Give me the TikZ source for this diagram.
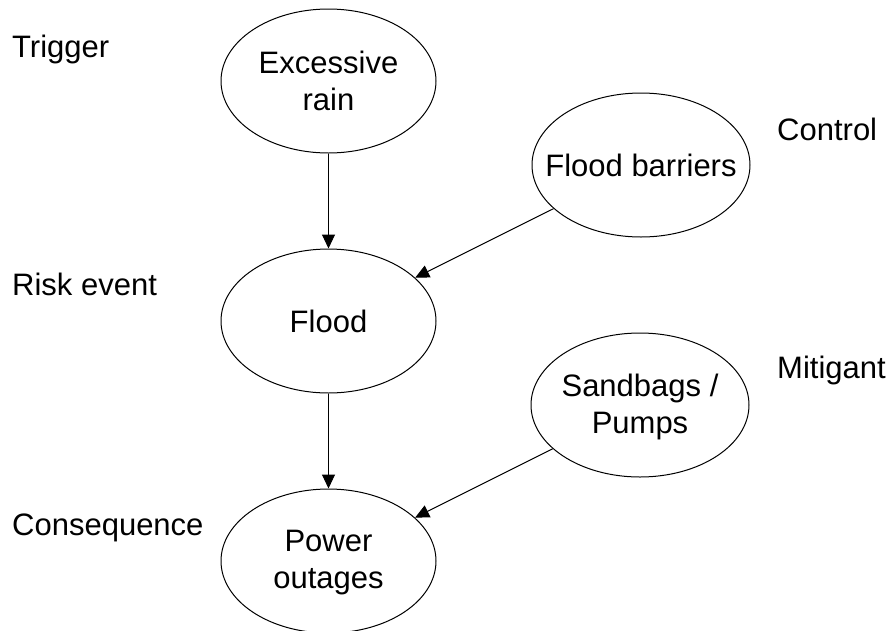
\documentclass[tikz,border=0pt]{standalone}
\usepackage{fontspec}
\setmainfont{Liberation Sans}
\usetikzlibrary{shapes.geometric,arrows.meta}
\begin{document}
\begin{tikzpicture}[x=1pt,y=-1pt,
  txt/.style={font=\fontsize{31}{37}\selectfont, inner sep=0pt},
  oval/.style={ellipse, draw, line width=1pt, minimum width=215pt, minimum height=144pt, inner sep=0pt},
  intext/.style={txt, align=center},
  tag/.style={txt, anchor=base west},
  link/.style={line width=1pt, -{Triangle[length=14pt,width=13pt]}}]
  \useasboundingbox (0,0) rectangle (892,630);
  \fill[white] (0,0) rectangle (892,630);

  % stage labels on the sides
  \node[tag] (lt) at (12,57) {Trigger};
  \node[tag] (lc) at (777,140) {Control};
  \node[tag] (lr) at (12,295) {Risk event};
  \node[tag] (lm) at (777,378) {Mitigant};
  \node[tag] (lq) at (12,535) {Consequence};

  % ovals
  \node[oval] (er) at (328.5,81) {};
  \node[oval, minimum width=218pt] (fb) at (641,165) {};
  \node[oval] (fl) at (328.5,321) {};
  \node[oval, minimum width=218pt] (sp) at (640,405) {};
  \node[oval] (po) at (328.5,561) {};

  % oval texts
  \node[intext] (ert) at (er.center) {Excessive\\rain};
  \node[intext] (fbt) at (fb.center) {Flood barriers};
  \node[intext] (flt) at (fl.center) {Flood};
  \node[intext] (spt) at ([yshift=-2pt]sp.center) {Sandbags /\\Pumps};
  \node[intext] (pot) at ([yshift=-2pt]po.center) {Power\\outages};

  % connectors
  \draw[link] (er) -- (fl);
  \draw[link] (fb) -- (fl);
  \draw[link] (fl) -- (po);
  \draw[link] (sp) -- (po);
\end{tikzpicture}
\end{document}
